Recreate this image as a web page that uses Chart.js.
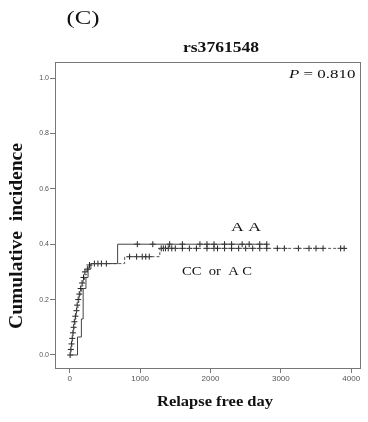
<!DOCTYPE html>
<html><head><meta charset="utf-8">
<script src="https://cdn.jsdelivr.net/npm/chart.js@4/dist/chart.umd.min.js"></script>
<style>html,body{margin:0;padding:0;background:#fff}#wrap{width:368px;height:422px}</style>
</head><body><div id="wrap"><canvas id="c" width="368" height="422"></canvas></div>
<script>
// AA group: step function (day, cumulative incidence)
const aaDays   = [0, 110, 165, 190, 230, 260, 300, 680, 2800];
const aaValues = [0, 0.065, 0.13, 0.24, 0.28, 0.31, 0.33, 0.40, 0.40];
const aaCensorDays = [960, 1180, 1420, 1600, 1850, 1950, 2050, 2200, 2300, 2450, 2550, 2700, 2800];
const aaCensorValues = [0.40,0.40,0.40,0.40,0.40,0.40,0.40,0.40,0.40,0.40,0.40,0.40,0.40];

// CC or AC group
const ccDays   = [0, 10, 20, 30, 40, 50, 60, 75, 90, 100, 115, 130, 150, 170, 190, 210, 240, 270, 300, 780, 1280, 3900];
const ccValues = [0, 0.01, 0.03, 0.05, 0.07, 0.09, 0.11, 0.13, 0.15, 0.17, 0.19, 0.21, 0.23, 0.25, 0.27, 0.29, 0.305, 0.32, 0.33, 0.355, 0.385, 0.385];
const ccCensorDays = [5, 15, 25, 35, 45, 55, 65, 80, 95, 105, 120, 135, 155, 175, 195, 215, 250, 280, 350, 400, 450, 520,
  850, 950, 1030, 1080, 1130, 1300, 1330, 1360, 1400, 1450, 1500, 1600, 1700, 1800, 1950, 2050, 2100, 2200, 2300, 2400,
  2500, 2600, 2700, 2800, 2950, 3050, 3250, 3400, 3500, 3600, 3850, 3900];
const ccCensorValues = [0.0, 0.02, 0.04, 0.06, 0.08, 0.10, 0.12, 0.14, 0.16, 0.18, 0.20, 0.22, 0.24, 0.26, 0.28, 0.30, 0.31, 0.325, 0.33, 0.33, 0.33, 0.33,
  0.355, 0.355, 0.355, 0.355, 0.355, 0.385, 0.385, 0.385, 0.385, 0.385, 0.385, 0.385, 0.385, 0.385, 0.385, 0.385, 0.385, 0.385, 0.385, 0.385,
  0.385, 0.385, 0.385, 0.385, 0.385, 0.385, 0.385, 0.385, 0.385, 0.385, 0.385, 0.385];

const xTicks = [0, 1000, 2000, 3000, 4000];
const yTicks = [0, 0.2, 0.4, 0.6, 0.8, 1.0];

const pts = (xs, ys) => xs.map((x, i) => ({x: x, y: ys[i]}));

// draw text centred at (cx, cy), scaled along its length to a target width
function fitText(ctx, text, cx, cy, font, targetW, rot) {
  ctx.save();
  ctx.font = font;
  ctx.textAlign = 'center';
  ctx.textBaseline = 'middle';
  const w = ctx.measureText(text).width;
  ctx.translate(cx, cy);
  if (rot) ctx.rotate(rot);
  ctx.scale(targetW / w, rot ? 1.2 : 1);
  ctx.fillText(text, 0, 0);
  ctx.restore();
}

const textPlugin = {
  id: 'texts',
  afterDraw(chart) {
    const ctx = chart.ctx, a = chart.chartArea;
    ctx.save();
    ctx.strokeStyle = '#777'; ctx.lineWidth = 1;
    ctx.strokeRect(Math.round(a.left) + 0.5, Math.round(a.top) + 0.5, Math.round(a.right - a.left), Math.round(a.bottom - a.top));
    ctx.fillStyle = '#111';
    fitText(ctx, '(C)', 83, 19, '18px "Liberation Serif"', 33);
    fitText(ctx, 'rs3761548', 221, 48, 'bold 15px "Liberation Serif"', 76);
    fitText(ctx, 'Relapse free day', 215, 402, 'bold 15px "Liberation Serif"', 116);
    fitText(ctx, 'Cumulative  incidence', 17, 236, 'bold 15px "Liberation Serif"', 186, -Math.PI / 2);
    fitText(ctx, 'A A', 246, 228, '13px "Liberation Serif"', 30);
    fitText(ctx, 'CC  or  A C', 217, 272, '13px "Liberation Serif"', 70);
    // P = 0.810 (italic P)
    ctx.save();
    ctx.translate(289, 75);
    ctx.scale(1.3, 1);
    ctx.textBaseline = 'middle'; ctx.textAlign = 'left';
    ctx.font = 'italic 13px "Liberation Serif"';
    ctx.fillText('P', 0, 0);
    const pw = ctx.measureText('P ').width;
    ctx.font = '13px "Liberation Serif"';
    ctx.fillText('= 0.810', pw, 0);
    ctx.restore();
    ctx.restore();
  }
};

new Chart(document.getElementById('c'), {
  type: 'line',
  data: {
    datasets: [
      {data: pts(aaDays, aaValues), borderColor: '#444', borderWidth: 1, stepped: 'before', pointRadius: 0, fill: false},
      {data: pts(ccDays, ccValues), borderColor: '#555', borderWidth: 1, borderDash: [3, 2], stepped: 'before', pointRadius: 0, fill: false},
      {data: pts(aaCensorDays, aaCensorValues), showLine: false, pointStyle: 'cross', pointRadius: 3, borderColor: '#222', borderWidth: 1},
      {data: pts(ccCensorDays, ccCensorValues), showLine: false, pointStyle: 'cross', pointRadius: 3, borderColor: '#222', borderWidth: 1}
    ]
  },
  options: {
    responsive: false, animation: false,
    layout: {padding: {top: 62, right: 8, left: 0, bottom: 0}},
    plugins: {legend: {display: false}, tooltip: {enabled: false}},
    scales: {
      x: {
        type: 'linear', min: -210, max: 4125,
        afterFit(s) { s.height = 54; },
        afterBuildTicks(s) { s.ticks = xTicks.map(v => ({value: v})); },
        border: {display: false},
        grid: {drawOnChartArea: false, drawTicks: true, tickLength: 5, color: '#777'},
        ticks: {color: '#555', font: {family: 'Liberation Sans', size: 8}, padding: 1, maxRotation: 0, callback: v => String(v)}
      },
      y: {
        type: 'linear', min: -0.047, max: 1.058,
        afterFit(s) { s.width = 55; },
        afterBuildTicks(s) { s.ticks = yTicks.map(v => ({value: v})); },
        border: {display: false},
        grid: {drawOnChartArea: false, drawTicks: true, tickLength: 5, color: '#777'},
        ticks: {color: '#555', font: {family: 'Liberation Sans', size: 7}, padding: 1, callback: v => v.toFixed(1)}
      }
    }
  },
  plugins: [textPlugin]
});
</script></body></html>
